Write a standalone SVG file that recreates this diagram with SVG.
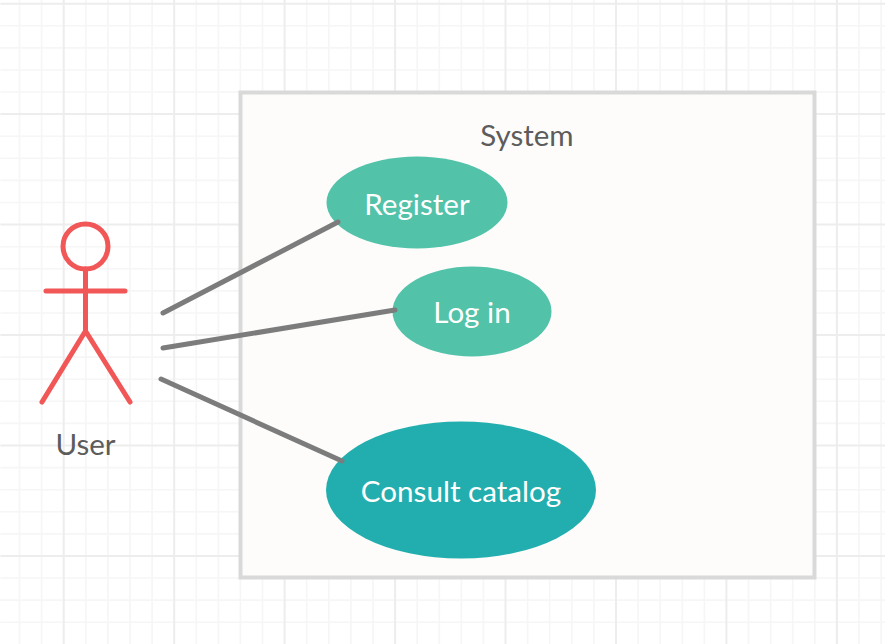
<svg xmlns="http://www.w3.org/2000/svg" width="885" height="644" viewBox="0 0 885 644">
<style>
.minor{stroke:#f6f6f6;stroke-width:1.6;fill:none}
.major{stroke:#ededed;stroke-width:2;fill:none}
.edge{stroke:#7c7c7c;stroke-width:5;stroke-linecap:round;fill:none}
.actor{stroke:#f25757;stroke-width:5;stroke-linecap:round;fill:none}
text{font-family:Lato,"Open Sans",sans-serif;text-anchor:middle}
.dark{fill:#5c5c5c;font-size:29.500px}
.light{fill:#fff;font-size:29.600px}
</style>
<rect width="885" height="644" fill="#fff"/>
<g transform="translate(0.4 0)">
<path class="minor" d="M19.1 0V644M41.2 0V644M85.4 0V644M107.5 0V644M129.6 0V644M151.7 0V644M195.9 0V644M218 0V644M240 0V644M262.1 0V644M306.3 0V644M328.4 0V644M350.5 0V644M372.6 0V644M416.8 0V644M438.9 0V644M461 0V644M483 0V644M527.2 0V644M549.3 0V644M571.4 0V644M593.5 0V644M637.7 0V644M659.8 0V644M681.9 0V644M704 0V644M748.1 0V644M770.2 0V644M792.3 0V644M814.4 0V644M858.6 0V644M880.7 0V644"/>
<path class="minor" d="M0 25.8H885M0 47.9H885M0 70H885M0 92H885M0 136.2H885M0 158.3H885M0 180.4H885M0 202.5H885M0 246.7H885M0 268.8H885M0 290.9H885M0 313H885M0 357.1H885M0 379.2H885M0 401.3H885M0 423.4H885M0 467.6H885M0 489.7H885M0 511.8H885M0 533.9H885M0 578H885M0 600.1H885M0 622.2H885"/>
<path class="major" d="M63.3 0V644M173.8 0V644M284.2 0V644M394.7 0V644M505.1 0V644M615.6 0V644M726 0V644M836.5 0V644M0 3.7H885M0 114.1H885M0 224.6H885M0 335H885M0 445.5H885M0 556H885"/>
</g>
<g id="system">
<rect x="240.5" y="92.500" width="574" height="485" fill="#fdfcfa" stroke="#d9d9d9" stroke-width="4"/>
<text class="dark" x="527" y="146">System</text>
</g>
<g id="user">
<circle class="actor" cx="85.500" cy="246.500" r="22.500"/>
<path class="actor" d="M85.500 269V331M46 291H125M85.500 331L42 402M85.500 331L130 402"/>
<text class="dark" x="85.500" y="455">User</text>
</g>
<g id="register">
<ellipse cx="417" cy="202.500" rx="90.500" ry="46" fill="#52c2a9"/>
<text class="light" x="417" y="215">Register</text>
</g>
<g id="login">
<ellipse cx="472" cy="311.500" rx="79.500" ry="45" fill="#52c2a9"/>
<text class="light" x="472" y="323">Log in</text>
</g>
<g id="consult">
<ellipse cx="461" cy="490" rx="135" ry="68.500" fill="#22aeae"/>
<text class="light" x="461" y="502">Consult catalog</text>
</g>
<g id="connectors">
<path class="edge" d="M163 313L338 222"/>
<path class="edge" d="M163 348L395 310"/>
<path class="edge" d="M161 379L342 461"/>
</g>
</svg>
